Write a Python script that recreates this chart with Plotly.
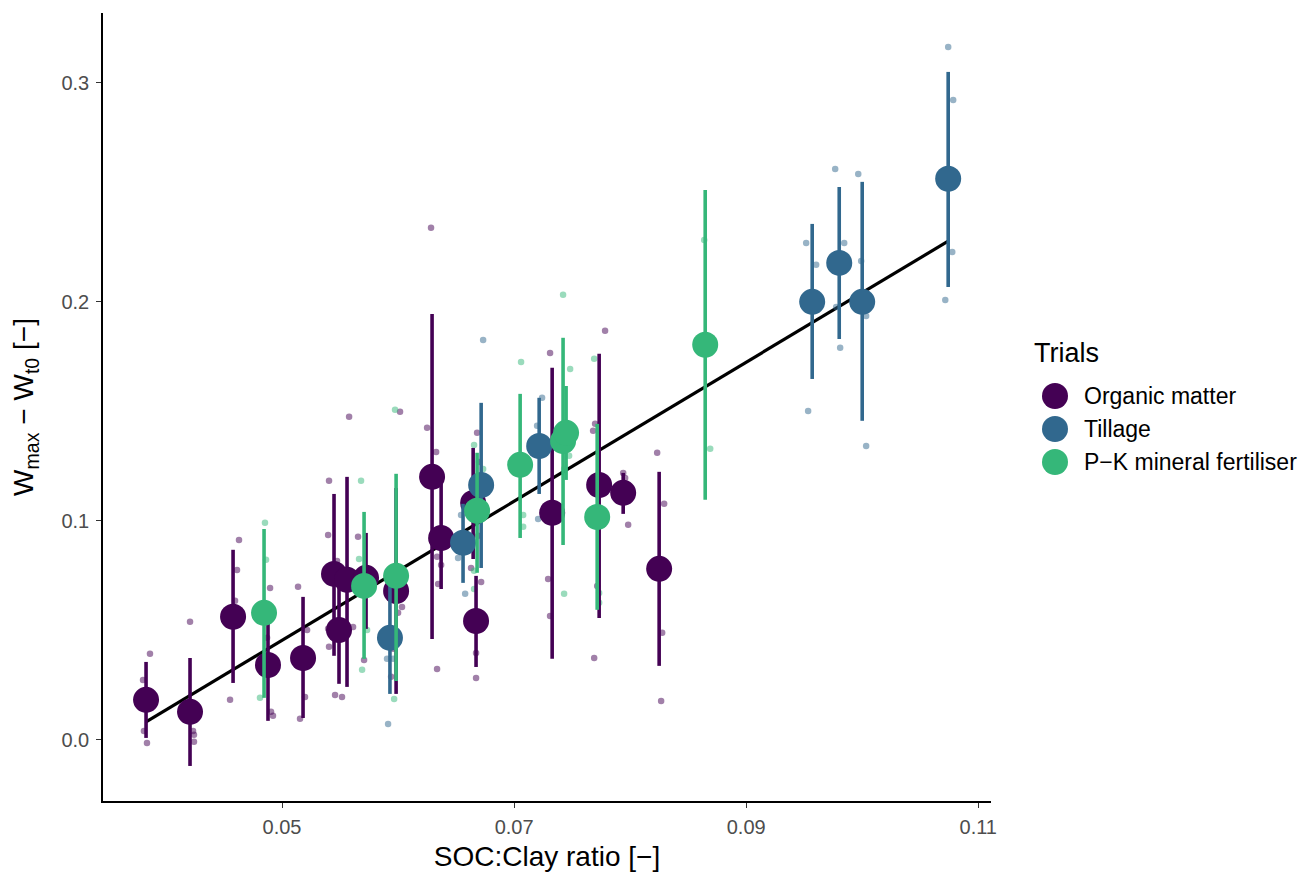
import numpy as np
import plotly.graph_objects as go

# ---------------- data ----------------
trials = ["Organic matter", "Tillage", "P\u2212K mineral fertiliser"]
colors = ["#440154", "#31688E", "#35B779"]

# treatment means with error-bar limits
om_x = [0.03828, 0.04207, 0.04578, 0.04879, 0.05181, 0.05448, 0.0556, 0.05491, 0.05724,
        0.05983, 0.06293, 0.06371, 0.06647, 0.06672, 0.07328, 0.07733, 0.0794, 0.0825]
om_y = [0.0183, 0.0128, 0.0562, 0.0342, 0.0374, 0.0758, 0.0731, 0.0502, 0.0740,
        0.0680, 0.1201, 0.0922, 0.1082, 0.0543, 0.1037, 0.1164, 0.1128, 0.0781]
om_hi = [0.0356, 0.0374, 0.0868, 0.0557, 0.0653, 0.1123, 0.1201, 0.0726, 0.0945,
         0.115, 0.1945, 0.1169, 0.1333, 0.0749, 0.1699, 0.1763, 0.1219, 0.1224]
om_lo = [0.0009, -0.0119, 0.0260, 0.0087, 0.0100, 0.0384, 0.0242, 0.0256, 0.0507,
         0.021, 0.0461, 0.0689, 0.0826, 0.0333, 0.0370, 0.0557, 0.1032, 0.0338]

ti_x = [0.0593, 0.0656, 0.06716, 0.07216, 0.09569, 0.09802, 0.1, 0.10741]
ti_y = [0.0466, 0.0900, 0.1164, 0.1342, 0.2000, 0.2178, 0.2000, 0.2562]
ti_hi = [0.0726, 0.1078, 0.1539, 0.1562, 0.2356, 0.2525, 0.2548, 0.3050]
ti_lo = [0.0210, 0.0717, 0.0785, 0.1123, 0.1648, 0.1831, 0.1457, 0.2068]

pk_x = [0.04845, 0.05707, 0.05983, 0.06681, 0.07052, 0.07422, 0.07448, 0.07716, 0.08647]
pk_y = [0.0580, 0.0703, 0.0749, 0.1046, 0.1256, 0.1365, 0.1402, 0.1018, 0.1804]
pk_hi = [0.0963, 0.1041, 0.1215, 0.1311, 0.158, 0.1836, 0.1616, 0.1443, 0.2511]
pk_lo = [0.0192, 0.0370, 0.0269, 0.0763, 0.0922, 0.0890, 0.1187, 0.0594, 0.1096]

# individual (jittered) replicate observations
om_obs_x = [0.03862, 0.03802, 0.03810, 0.03836, 0.04207, 0.04233, 0.04241, 0.04241,
            0.04552, 0.04595, 0.04612, 0.04629, 0.04897, 0.04871, 0.04905, 0.04922,
            0.05138, 0.05216, 0.05198, 0.05155, 0.05397, 0.05405, 0.05578, 0.05405,
            0.05397, 0.05655, 0.05474, 0.05612, 0.05457, 0.05517, 0.05707, 0.06017,
            0.06034, 0.06000, 0.05957, 0.05940, 0.06284, 0.06250, 0.06328, 0.06336,
            0.06336, 0.06371, 0.06345, 0.06681, 0.06698, 0.06716, 0.06629, 0.06690,
            0.06672, 0.06672, 0.07310, 0.07293, 0.07310, 0.07784, 0.07698, 0.07681,
            0.07716, 0.07690, 0.07940, 0.07957, 0.07983, 0.08233, 0.08293, 0.08276,
            0.08267]
om_obs_y = [0.0393, 0.0274, 0.0041, -0.0014, 0.0539, 0.0041, 0.0023, -0.0009,
            0.0183, 0.0635, 0.0776, 0.0913, 0.0694, 0.0466, 0.0128, 0.0110,
            0.0699, 0.0502, 0.0196, 0.0096, 0.0507, 0.0425, 0.1475, 0.1183,
            0.0936, 0.0927, 0.0817, 0.0516, 0.0205, 0.0196, 0.0365, 0.1498,
            0.0607, 0.0580, 0.0416, 0.0288, 0.2338, 0.1425, 0.1315, 0.0324,
            0.0836, 0.0799, 0.0712, 0.1402, 0.1269, 0.0721, 0.0785, 0.0932,
            0.0397, 0.0283, 0.1767, 0.0735, 0.0566, 0.1868, 0.1443, 0.1411,
            0.0703, 0.0374, 0.1219, 0.1196, 0.0982, 0.1311, 0.1078, 0.0489,
            0.0178]

ti_obs_x = [0.05914, 0.05905, 0.05957, 0.05914, 0.06733, 0.06543, 0.06517, 0.06578,
            0.07241, 0.07198, 0.07207, 0.09517, 0.09603, 0.09534, 0.09767, 0.09845,
            0.09776, 0.09810, 0.09966, 0.09991, 0.10034, 0.10034, 0.10741, 0.10784,
            0.10776, 0.10716]
ti_obs_y = [0.0731, 0.0370, 0.0370, 0.0073, 0.1826, 0.1027, 0.0831, 0.0667,
            0.1562, 0.1434, 0.1009, 0.2269, 0.2169, 0.1502, 0.2607, 0.2269,
            0.1977, 0.1790, 0.2584, 0.2187, 0.1936, 0.1342, 0.3164, 0.2922,
            0.2228, 0.2009]

pk_obs_x = [0.04853, 0.04862, 0.04810, 0.05681, 0.05664, 0.05690, 0.05733, 0.05974,
            0.05966, 0.06655, 0.06733, 0.06655, 0.06655, 0.07060, 0.07078, 0.07078,
            0.07422, 0.07483, 0.07690, 0.07474, 0.07431, 0.07431, 0.07733, 0.07733,
            0.08638, 0.08690]
pk_obs_y = [0.0991, 0.0822, 0.0192, 0.1183, 0.0826, 0.0320, 0.0502, 0.1507,
            0.0187, 0.1347, 0.1237, 0.0772, 0.0689, 0.1726, 0.1027, 0.0973,
            0.2032, 0.1694, 0.1740, 0.1297, 0.1237, 0.0667, 0.0671, 0.0626,
            0.2283, 0.1329]

# linear fit
fit_intercept = -0.1133
fit_slope = 3.175

x_ticks = [0.05, 0.07, 0.09, 0.11]
y_ticks = [0.0, 0.1, 0.2, 0.3]

# ---------------- figure ----------------
means = [(om_x, om_y, om_hi, om_lo), (ti_x, ti_y, ti_hi, ti_lo), (pk_x, pk_y, pk_hi, pk_lo)]
obs = [(om_obs_x, om_obs_y), (ti_obs_x, ti_obs_y), (pk_obs_x, pk_obs_y)]

fig = go.Figure()

# regression line
all_mx = om_x + ti_x + pk_x
lx = np.array([min(all_mx), max(all_mx)])
fig.add_trace(go.Scatter(x=lx, y=fit_intercept + fit_slope * lx, mode="lines",
                         line=dict(color="black", width=3.2), showlegend=False,
                         hoverinfo="skip"))

# jittered observations
for (ox, oy), c, name in zip(obs, colors, trials):
    fig.add_trace(go.Scatter(x=ox, y=oy, mode="markers", showlegend=False,
                             marker=dict(color=c, size=6.5, opacity=0.5, line=dict(width=0)),
                             name=name))

# means with error bars
for (mx, my, mhi, mlo), c, name in zip(means, colors, trials):
    my_a, hi_a, lo_a = np.array(my), np.array(mhi), np.array(mlo)
    fig.add_trace(go.Scatter(
        x=mx, y=my, mode="markers", name=name, showlegend=False,
        marker=dict(color=c, size=26, line=dict(width=0)),
        error_y=dict(type="data", symmetric=False, array=hi_a - my_a,
                     arrayminus=my_a - lo_a, color=c, thickness=3.6, width=0)))

# page offset (body margin) and plot area in page pixels
OFF = 7
W, H = 1310, 873
L, R, T, B = 102, 990, 12, 800
pw, ph = R - L, B - T


def px_x(p):
    return (p - L) / pw


def px_y(p):
    return (B - p) / ph


# custom legend
font_fam = "Liberation Sans, Arial, sans-serif"
annotations = [dict(x=px_x(1031), y=px_y(352), xref="paper", yref="paper", text="Trials",
                    showarrow=False, xanchor="left", yanchor="middle",
                    font=dict(family=font_fam, size=27, color="black"))]
shapes = []
for i, (name, c) in enumerate(zip(trials, colors)):
    cy = 395 + 33 * i
    shapes.append(dict(type="circle", xref="paper", yref="paper",
                       x0=px_x(1054 - 13), x1=px_x(1054 + 13),
                       y0=px_y(cy + 13), y1=px_y(cy - 13),
                       fillcolor=c, line=dict(width=0)))
    annotations.append(dict(x=px_x(1081), y=px_y(cy), xref="paper", yref="paper", text=name,
                            showarrow=False, xanchor="left", yanchor="middle",
                            font=dict(family=font_fam, size=23, color="black")))

fig.update_layout(
    width=W, height=H,
    margin=dict(l=L - OFF, r=W - (L - OFF) - pw, t=T - OFF, b=H - (T - OFF) - ph,
                autoexpand=False),
    paper_bgcolor="white", plot_bgcolor="white",
    font=dict(family=font_fam, color="black"),
    showlegend=False,
    annotations=annotations, shapes=shapes,
    xaxis=dict(range=[0.03457, 0.1111], tickvals=x_ticks,
               ticktext=[f"{v:.2f}" for v in x_ticks],
               showgrid=False, zeroline=False, showline=True, linecolor="black", linewidth=1.6,
               ticks="outside", ticklen=5, tickwidth=1.3, tickcolor="#333333",
               ticklabelstandoff=2,
               tickfont=dict(size=20, color="#4D4D4D", family=font_fam),
               title=dict(text="SOC:Clay ratio [\u2212]", font=dict(size=28, family=font_fam),
                          standoff=10)),
    yaxis=dict(range=[-0.0279, 0.3319], tickvals=y_ticks,
               ticktext=[f"{v:.1f}" for v in y_ticks],
               showgrid=False, zeroline=False, showline=True, linecolor="black", linewidth=1.6,
               ticks="outside", ticklen=5, tickwidth=1.3, tickcolor="#333333",
               ticklabelstandoff=3,
               tickfont=dict(size=20, color="#4D4D4D", family=font_fam),
               title=dict(text="W<sub>max</sub> \u2212 W<sub>t0</sub> [\u2212]",
                          font=dict(size=28, family=font_fam), standoff=20)),
)

fig.write_html("out.html")
